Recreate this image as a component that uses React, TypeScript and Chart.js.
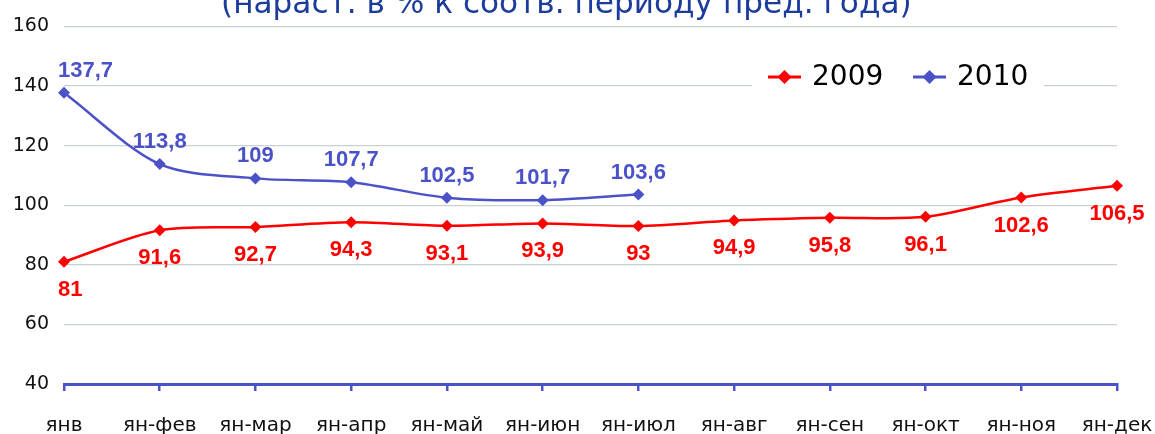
import React, { useEffect, useRef } from "react";
import { Chart, registerables } from "chart.js";

Chart.register(...registerables);

const categories = ["янв", "ян-фев", "ян-мар", "ян-апр", "ян-май", "ян-июн", "ян-июл", "ян-авг", "ян-сен", "ян-окт", "ян-ноя", "ян-дек"];
const values2009 = [81, 91.6, 92.7, 94.3, 93.1, 93.9, 93, 94.9, 95.8, 96.1, 102.6, 106.5];
const values2010 = [137.7, 113.8, 109, 107.7, 102.5, 101.7, 103.6, null, null, null, null, null];
const seriesNames = ["2009", "2010"];
const titleText = "(нараст. в % к соотв. периоду пред. года)";

const RED = "#ff0000";
const BLUE = "#4b52c8";

const fmt = (v: number) => String(v).replace(".", ",");

const overlayPlugin = {
  id: "overlay",
  afterDatasetsDraw(chart: any) {
    const ctx = chart.ctx;
    ctx.save();
    ctx.font = "bold 22px 'Liberation Sans', Arial, sans-serif";
    ctx.textAlign = "center";
    ctx.textBaseline = "middle";
    chart.data.datasets.forEach((ds: any, di: number) => {
      const meta = chart.getDatasetMeta(di);
      meta.data.forEach((pt: any, i: number) => {
        const v = ds.data[i];
        if (v == null) return;
        const txt = fmt(v);
        const w = ctx.measureText(txt).width;
        let x = pt.x;
        if (x - w / 2 < 58) x = 58 + w / 2;
        if (x + w / 2 > 1146) x = 1146 - w / 2;
        const y = di === 0 ? pt.y + 28 : pt.y - 22;
        ctx.fillStyle = ds.borderColor;
        ctx.fillText(txt, x, y);
      });
    });
    ctx.restore();
  },
  afterDraw(chart: any) {
    const ctx = chart.ctx;
    ctx.save();
    // title (partially cut at the top)
    let size = 26;
    ctx.font = `${size}px 'DejaVu Sans', sans-serif`;
    const tw = ctx.measureText(titleText).width;
    size = size * 691 / tw;
    ctx.font = `${size}px 'DejaVu Sans', sans-serif`;
    ctx.fillStyle = "#1c3c9c";
    ctx.textAlign = "left";
    ctx.textBaseline = "alphabetic";
    ctx.fillText(titleText, 221, 13);

    // legend
    ctx.fillStyle = "#ffffff";
    ctx.fillRect(752, 58, 292, 40);
    const items = [
      { x: 768, color: RED, label: seriesNames[0] },
      { x: 913, color: BLUE, label: seriesNames[1] },
    ];
    const ly = 77;
    items.forEach((it) => {
      ctx.strokeStyle = it.color;
      ctx.lineWidth = 3;
      ctx.beginPath();
      ctx.moveTo(it.x, ly);
      ctx.lineTo(it.x + 33, ly);
      ctx.stroke();
      ctx.fillStyle = it.color;
      ctx.beginPath();
      const cx = it.x + 16.5;
      ctx.moveTo(cx, ly - 7);
      ctx.lineTo(cx + 7, ly);
      ctx.lineTo(cx, ly + 7);
      ctx.lineTo(cx - 7, ly);
      ctx.closePath();
      ctx.fill();
      ctx.fillStyle = "#000000";
      ctx.font = "28px 'DejaVu Sans', sans-serif";
      ctx.textAlign = "left";
      ctx.textBaseline = "middle";
      ctx.fillText(it.label, it.x + 44, ly + 1);
    });
    ctx.restore();
  },
};

export default function App() {
  const ref = useRef<HTMLCanvasElement | null>(null);
  useEffect(() => {
    if (!ref.current) return;
    const chart = new Chart(ref.current, {
      type: "line",
      data: {
        labels: categories,
        datasets: [
          {
            label: seriesNames[0],
            data: values2009,
            borderColor: RED,
            backgroundColor: RED,
            borderWidth: 2.5,
            pointStyle: "rectRot",
            pointRadius: 6,
            pointBackgroundColor: RED,
            pointBorderWidth: 0,
            tension: 0.3,
          },
          {
            label: seriesNames[1],
            data: values2010,
            borderColor: BLUE,
            backgroundColor: BLUE,
            borderWidth: 2.5,
            pointStyle: "rectRot",
            pointRadius: 6,
            pointBackgroundColor: BLUE,
            pointBorderWidth: 0,
            tension: 0.3,
            spanGaps: false,
          },
        ],
      },
      options: {
        responsive: false,
        animation: false,
        layout: { padding: { top: 23, right: 38, left: 0, bottom: 0 } },
        plugins: {
          legend: { display: false },
          tooltip: { enabled: false },
          title: { display: false },
        },
        scales: {
          x: {
            offset: false,
            grid: {
              drawOnChartArea: false,
              drawTicks: true,
              tickLength: 7,
              color: BLUE,
              lineWidth: 2.5,
            },
            border: { display: true, color: BLUE, width: 3 },
            ticks: {
              color: "#111111",
              font: { family: "'DejaVu Sans', sans-serif", size: 20 },
              padding: 23,
              maxRotation: 0,
              autoSkip: false,
            },
            afterFit: (s: any) => {
              s.height = 50;
              s.paddingLeft = 0;
              s.paddingRight = 0;
            },
          },
          y: {
            min: 40,
            max: 160,
            ticks: {
              stepSize: 20,
              color: "#111111",
              font: { family: "'DejaVu Sans', sans-serif", size: 19 },
              padding: 15,
            },
            grid: { color: "#c8d3d0", lineWidth: 1.2, drawTicks: false },
            border: { display: false },
            afterFit: (s: any) => {
              s.width = 64;
            },
          },
        },
      },
      plugins: [overlayPlugin],
    });
    return () => chart.destroy();
  }, []);
  return (
    <div style={{ position: "fixed", left: 0, top: 0, width: 1155, height: 434, background: "#fff" }}>
      <canvas ref={ref} width={1155} height={434} style={{ width: 1155, height: 434, display: "block" }} />
    </div>
  );
}
